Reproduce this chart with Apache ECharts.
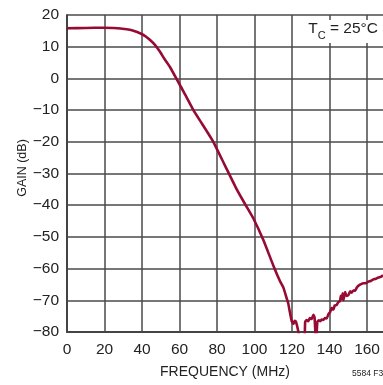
<!DOCTYPE html>
<html>
<head>
<meta charset="utf-8">
<script src="https://cdn.jsdelivr.net/npm/echarts@6/dist/echarts.min.js"></script>
<style>
html,body{margin:0;padding:0;background:#fff;}
#chart{width:383px;height:385px;}
</style>
</head>
<body>
<div id="chart"></div>
<script>
// Data
const freqMHz = [0,10,19.4,25,31.8,35,39.8,42,44.3,47,49.6,52,54.9,59,63,67.4,72,78,84,90.5,95,99.4,104.7,110,113.6,115.4,117.2,118,118.6,119.8,120.7,121.4,122.1,123.4,124.5,126.5,127,127.8,128.7,129.5,130.4,131.4,132,132.5,133,133.5,134.3,135,135.8,136.7,137.6,138.5,139.4,140.3,141.2,142,142.8,143.8,144.6,145.6,146,146.5,147,147.4,148,148.3,149,150,151,151.8,152.7,153.6,154.4,155.4,156.5,158,159.3,160.7,162,163.4,164.7,166,167.3,168.5];
const gainDb = [15.8,15.9,16.0,15.9,15.5,15.1,14.0,13.2,12.1,10.5,8.4,6.1,3.6,-0.8,-5.1,-10,-14.3,-20,-27.2,-35,-39.7,-44.2,-51,-59,-64,-66,-69.5,-71,-73,-76.5,-77.4,-76.5,-76.8,-80,-84,-84,-76.8,-76.2,-76.6,-75.6,-75.9,-74.6,-75.4,-80.5,-81,-76.8,-76.3,-76.6,-76.1,-76.2,-75.6,-75.7,-74.4,-73.7,-72.4,-73,-71.6,-71.5,-70.6,-70.2,-68.6,-69.5,-67.8,-70,-68.2,-67.4,-68.6,-68.4,-67.2,-67.6,-66.9,-67,-66.1,-65.4,-65.0,-64.6,-64.6,-64.1,-63.9,-63.4,-63.2,-62.8,-62.6,-62.1];
const xTicks = [0,20,40,60,80,100,120,140,160];
const yTicks = [20,10,0,-10,-20,-30,-40,-50,-60,-70,-80];
const xName = 'FREQUENCY (MHz)';
const yName = 'GAIN (dB)';
const noteText = '5584 F35';

const FONT = "'Liberation Sans','Arial',sans-serif";
const chart = echarts.init(document.getElementById('chart'), null, {renderer:'canvas'});
const fmt = v => String(v).replace('-', '\u2212');
const pts = freqMHz.map((f,i)=>[f, gainDb[i]]);

chart.setOption({
  animation:false,
  backgroundColor:'#fff',
  grid:{left:67, right:0, top:15, bottom:53},
  title:{
    text:'{a|T}{b|C}{a| = 25°C}',
    right:3, top:20,
    backgroundColor:'#fff',
    padding:[1,2,2,6],
    textStyle:{
      rich:{
        a:{fontFamily:FONT, fontSize:15.5, fontWeight:'normal', color:'#222', verticalAlign:'top', lineHeight:20},
        b:{fontFamily:FONT, fontSize:11, fontWeight:'normal', color:'#222', verticalAlign:'bottom', lineHeight:20, padding:[9,0,0,0]}
      }
    }
  },
  graphic:[
    {type:'text', left:352, top:369, style:{text:noteText, font:"8.5px "+FONT, fill:'#222'}},
    {type:'text', x:23, y:168, rotation:Math.PI/2,
      style:{text:yName, font:"12.5px "+FONT, fill:'#222', align:'center', verticalAlign:'middle'}}
  ],
  xAxis:{
    type:'value', min:0, max:168.5, interval:20,
    name:xName, nameLocation:'middle', nameGap:33,
    nameTextStyle:{fontFamily:FONT, fontSize:14, color:'#222'},
    axisLine:{show:true, onZero:false, lineStyle:{color:'#444', width:2}},
    axisTick:{show:false},
    axisLabel:{fontFamily:FONT, fontSize:15.5, color:'#222', margin:10, showMaxLabel:false,
      formatter:v => xTicks.includes(v) ? fmt(v) : ''},
    splitLine:{show:true, showMaxLine:false, lineStyle:{color:'#4a4a4a', width:1.5}}
  },
  yAxis:{
    type:'value', min:-80, max:20, interval:10,
    axisLine:{show:true, onZero:false, lineStyle:{color:'#444', width:2}},
    axisTick:{show:false},
    axisLabel:{fontFamily:FONT, fontSize:15.5, color:'#222', margin:8,
      formatter:v => yTicks.includes(v) ? fmt(v) : ''},
    splitLine:{show:true, lineStyle:{color:'#4a4a4a', width:1.5}}
  },
  series:[{
    type:'line', data:pts, showSymbol:false, clip:true,
    lineStyle:{color:'#960a33', width:2.6},
    smooth:0.15
  }]
});
</script>
</body>
</html>
